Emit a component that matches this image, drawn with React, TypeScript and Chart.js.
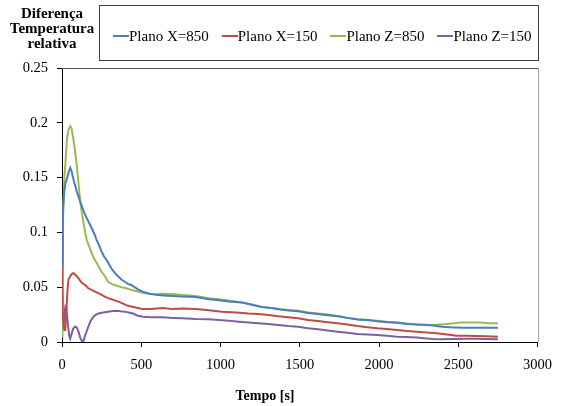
import React, { useEffect, useRef } from "react";
import { Chart, registerables } from "chart.js";

Chart.register(...registerables);

const seriesNames = ["Plano X=850", "Plano X=150", "Plano Z=850", "Plano Z=150"];
const seriesColors = ["#4A7EBB", "#BE4B48", "#98B954", "#7D60A0"];

const yTickLabels = ["0", "0.05", "0.1", "0.15", "0.2", "0.25"];
const xTickLabels = ["0", "500", "1000", "1500", "2000", "2500", "3000"];
const xTitle = "Tempo [s]";
const yTitleLines = ["Diferença", "Temperatura", "relativa"];

// Plano X=850
const tX850 = [0, 3, 8, 15, 22, 31, 42, 52, 60, 73, 94, 110, 125, 140, 156, 170, 187, 203, 219, 235, 250, 265, 281, 297, 312, 333, 354, 375, 396, 416, 437, 458, 479, 510, 550, 594, 640, 698, 760, 844, 927, 990, 1052, 1135, 1200, 1260, 1320, 1385, 1450, 1490, 1552, 1614, 1677, 1739, 1800, 1864, 1927, 1989, 2050, 2114, 2176, 2239, 2300, 2343, 2364, 2400, 2448, 2531, 2600, 2680, 2750];
const vX850 = [0.07, 0.105, 0.125, 0.138, 0.145, 0.149, 0.155, 0.159, 0.156, 0.148, 0.137, 0.13, 0.124, 0.118, 0.113, 0.109, 0.104, 0.099, 0.093, 0.088, 0.0825, 0.078, 0.075, 0.071, 0.067, 0.063, 0.06, 0.057, 0.055, 0.053, 0.052, 0.05, 0.048, 0.046, 0.044, 0.043, 0.0425, 0.042, 0.0415, 0.041, 0.039, 0.038, 0.037, 0.036, 0.034, 0.032, 0.031, 0.0295, 0.0285, 0.028, 0.0265, 0.0255, 0.0245, 0.0235, 0.022, 0.0205, 0.02, 0.019, 0.018, 0.0175, 0.0165, 0.016, 0.0155, 0.015, 0.0146, 0.014, 0.0134, 0.013, 0.013, 0.013, 0.013];

// Plano X=150
const tX150 = [0, 2, 5, 10, 15, 21, 28, 35, 41, 52, 62, 73, 85, 94, 104, 115, 125, 135, 146, 166, 187, 208, 229, 250, 270, 291, 312, 333, 354, 385, 416, 450, 479, 510, 560, 635, 700, 760, 844, 927, 1010, 1100, 1177, 1240, 1302, 1365, 1427, 1490, 1552, 1614, 1677, 1739, 1800, 1864, 1927, 1989, 2050, 2114, 2176, 2239, 2300, 2364, 2430, 2489, 2550, 2614, 2680, 2750];
const vX150 = [0.119, 0.08, 0.03, 0.015, 0.011, 0.011, 0.03, 0.048, 0.057, 0.06, 0.062, 0.063, 0.061, 0.06, 0.058, 0.056, 0.054, 0.053, 0.052, 0.049, 0.0475, 0.046, 0.0445, 0.043, 0.0415, 0.04, 0.039, 0.038, 0.037, 0.035, 0.033, 0.032, 0.031, 0.03, 0.03, 0.031, 0.03, 0.0305, 0.03, 0.029, 0.0277, 0.027, 0.026, 0.0255, 0.0247, 0.0235, 0.0226, 0.0216, 0.02, 0.0192, 0.018, 0.017, 0.016, 0.0146, 0.0135, 0.0125, 0.0118, 0.011, 0.01, 0.0094, 0.0087, 0.0079, 0.0068, 0.0058, 0.0056, 0.0055, 0.0052, 0.0049];

// Plano Z=850
const tZ850 = [0, 3, 8, 15, 21, 31, 42, 52, 60, 66, 73, 84, 94, 104, 114, 125, 135, 146, 156, 172, 187, 203, 219, 235, 250, 271, 291, 312, 333, 354, 375, 406, 437, 479, 510, 550, 594, 640, 698, 760, 844, 927, 990, 1052, 1135, 1200, 1260, 1320, 1385, 1450, 1490, 1552, 1614, 1677, 1739, 1800, 1864, 1927, 1989, 2050, 2114, 2176, 2239, 2300, 2343, 2390, 2427, 2470, 2510, 2570, 2635, 2700, 2750];
const vZ850 = [0.005, 0.06, 0.12, 0.15, 0.162, 0.185, 0.194, 0.197, 0.195, 0.19, 0.184, 0.172, 0.16, 0.145, 0.13, 0.118, 0.109, 0.1, 0.093, 0.087, 0.081, 0.076, 0.072, 0.068, 0.064, 0.06, 0.055, 0.053, 0.052, 0.051, 0.05, 0.049, 0.0475, 0.046, 0.045, 0.044, 0.0436, 0.044, 0.0439, 0.043, 0.042, 0.04, 0.039, 0.0378, 0.036, 0.034, 0.032, 0.031, 0.03, 0.029, 0.0286, 0.027, 0.026, 0.025, 0.0238, 0.022, 0.0207, 0.02, 0.0195, 0.0185, 0.0177, 0.0168, 0.016, 0.0157, 0.0155, 0.016, 0.0165, 0.017, 0.0177, 0.0178, 0.0177, 0.0172, 0.017];

// Plano Z=150
const tZ150 = [0, 3, 8, 15, 21, 28, 36, 45, 52, 60, 70, 83, 94, 105, 115, 125, 135, 146, 156, 166, 180, 198, 215, 229, 260, 291, 320, 344, 370, 396, 420, 448, 479, 510, 560, 635, 700, 760, 844, 927, 990, 1052, 1115, 1177, 1240, 1302, 1365, 1427, 1490, 1552, 1614, 1677, 1739, 1800, 1864, 1927, 1989, 2050, 2114, 2176, 2239, 2300, 2343, 2400, 2468, 2540, 2614, 2680, 2750];
const vZ150 = [0.044, 0.02, 0.012, 0.025, 0.032, 0.03, 0.018, 0.006, 0.003, 0.007, 0.012, 0.014, 0.013, 0.009, 0.004, 0.001, 0.001, 0.006, 0.01, 0.014, 0.019, 0.023, 0.025, 0.026, 0.027, 0.0277, 0.0283, 0.0286, 0.028, 0.0277, 0.027, 0.026, 0.024, 0.023, 0.0225, 0.0226, 0.022, 0.0216, 0.021, 0.0207, 0.02, 0.0195, 0.0185, 0.0177, 0.017, 0.0165, 0.0155, 0.0146, 0.014, 0.0125, 0.0116, 0.0105, 0.0094, 0.0084, 0.0073, 0.0068, 0.0064, 0.0057, 0.0049, 0.0045, 0.004, 0.0033, 0.0027, 0.0026, 0.0027, 0.0029, 0.003, 0.0027, 0.0024];

const seriesTimes = [tX850, tX150, tZ850, tZ150];
const seriesValues = [vX850, vX150, vZ850, vZ150];

const FONT = "Liberation Serif";

const frame = {
  id: "frame",
  afterDatasetsDraw(chart: any) {
    const { ctx, chartArea } = chart;
    const top = Math.round(chartArea.top) + 0.5;
    const right = Math.round(chartArea.right) + 0.5;
    ctx.save();
    ctx.lineWidth = 1;
    ctx.strokeStyle = "#5a5a5a";
    ctx.beginPath();
    ctx.moveTo(chartArea.left, top);
    ctx.lineTo(right, top);
    ctx.stroke();
    ctx.strokeStyle = "#a6a6a6";
    ctx.beginPath();
    ctx.moveTo(right, top);
    ctx.lineTo(right, chartArea.bottom);
    ctx.stroke();
    ctx.restore();
  },
};

export default function App() {
  const ref = useRef<HTMLCanvasElement | null>(null);
  useEffect(() => {
    if (!ref.current) return;
    const datasets = seriesNames.map((name, i) => ({
      label: name,
      data: seriesTimes[i].map((t, j) => ({ x: t, y: seriesValues[i][j] })),
      borderColor: seriesColors[i],
      backgroundColor: seriesColors[i],
      borderWidth: 2,
      pointRadius: 0,
      tension: 0,
      fill: false,
    }));
    const chart = new Chart(ref.current, {
      type: "line",
      data: { datasets },
      options: {
        animation: false,
        responsive: false,
        layout: { padding: { left: 0, right: 21, top: 68, bottom: 0 } },
        plugins: { legend: { display: false }, tooltip: { enabled: false } },
        scales: {
          x: {
            type: "linear",
            min: 0,
            max: 3000,
            afterFit: (s: any) => { s.height = 64; },
            ticks: {
              stepSize: 500,
              color: "#000",
              padding: 9,
              maxRotation: 0,
              font: { family: FONT, size: 14.5 },
              callback: (_v: any, i: number) => xTickLabels[i],
            },
            grid: { display: true, drawOnChartArea: false, drawTicks: true, tickLength: 5, color: "#000" },
            border: { display: true, color: "#000", width: 1 },
          },
          y: {
            type: "linear",
            min: 0,
            max: 0.25,
            afterFit: (s: any) => { s.width = 62; },
            ticks: {
              stepSize: 0.05,
              color: "#000",
              padding: 9,
              font: { family: FONT, size: 14.5 },
              callback: (_v: any, i: number) => yTickLabels[i],
            },
            grid: { display: true, drawOnChartArea: false, drawTicks: true, tickLength: 5, color: "#000" },
            border: { display: true, color: "#000", width: 1 },
          },
        },
      },
      plugins: [frame],
    });
    return () => chart.destroy();
  }, []);

  return (
    <div style={{ position: "absolute", left: 0, top: 0, width: 561, height: 406, background: "#fff", fontFamily: FONT }}>
      <canvas ref={ref} width={561} height={406} style={{ position: "absolute", left: 0, top: 0 }} />
      <div style={{ position: "absolute", left: 0, top: 6, width: 104, textAlign: "center", fontWeight: "bold", fontSize: 15, lineHeight: "15px", color: "#000" }}>
        {yTitleLines.map((l) => (<div key={l}>{l}</div>))}
      </div>
      <div style={{ position: "absolute", left: 99, top: 5, width: 440, height: 56, boxSizing: "border-box", border: "1px solid #404040", display: "flex", alignItems: "center", paddingLeft: 13, paddingTop: 6, gap: 13, fontSize: 15, color: "#000", whiteSpace: "nowrap" }}>
        {seriesNames.map((n, i) => (
          <div key={n} style={{ display: "flex", alignItems: "center" }}>
            <span style={{ display: "inline-block", width: 16, height: 2, background: seriesColors[i] }} />
            <span>{n}</span>
          </div>
        ))}
      </div>
      <div style={{ position: "absolute", left: 165, width: 200, top: 387, textAlign: "center", fontWeight: "bold", fontSize: 14, lineHeight: "18px", color: "#000" }}>{xTitle}</div>
    </div>
  );
}
